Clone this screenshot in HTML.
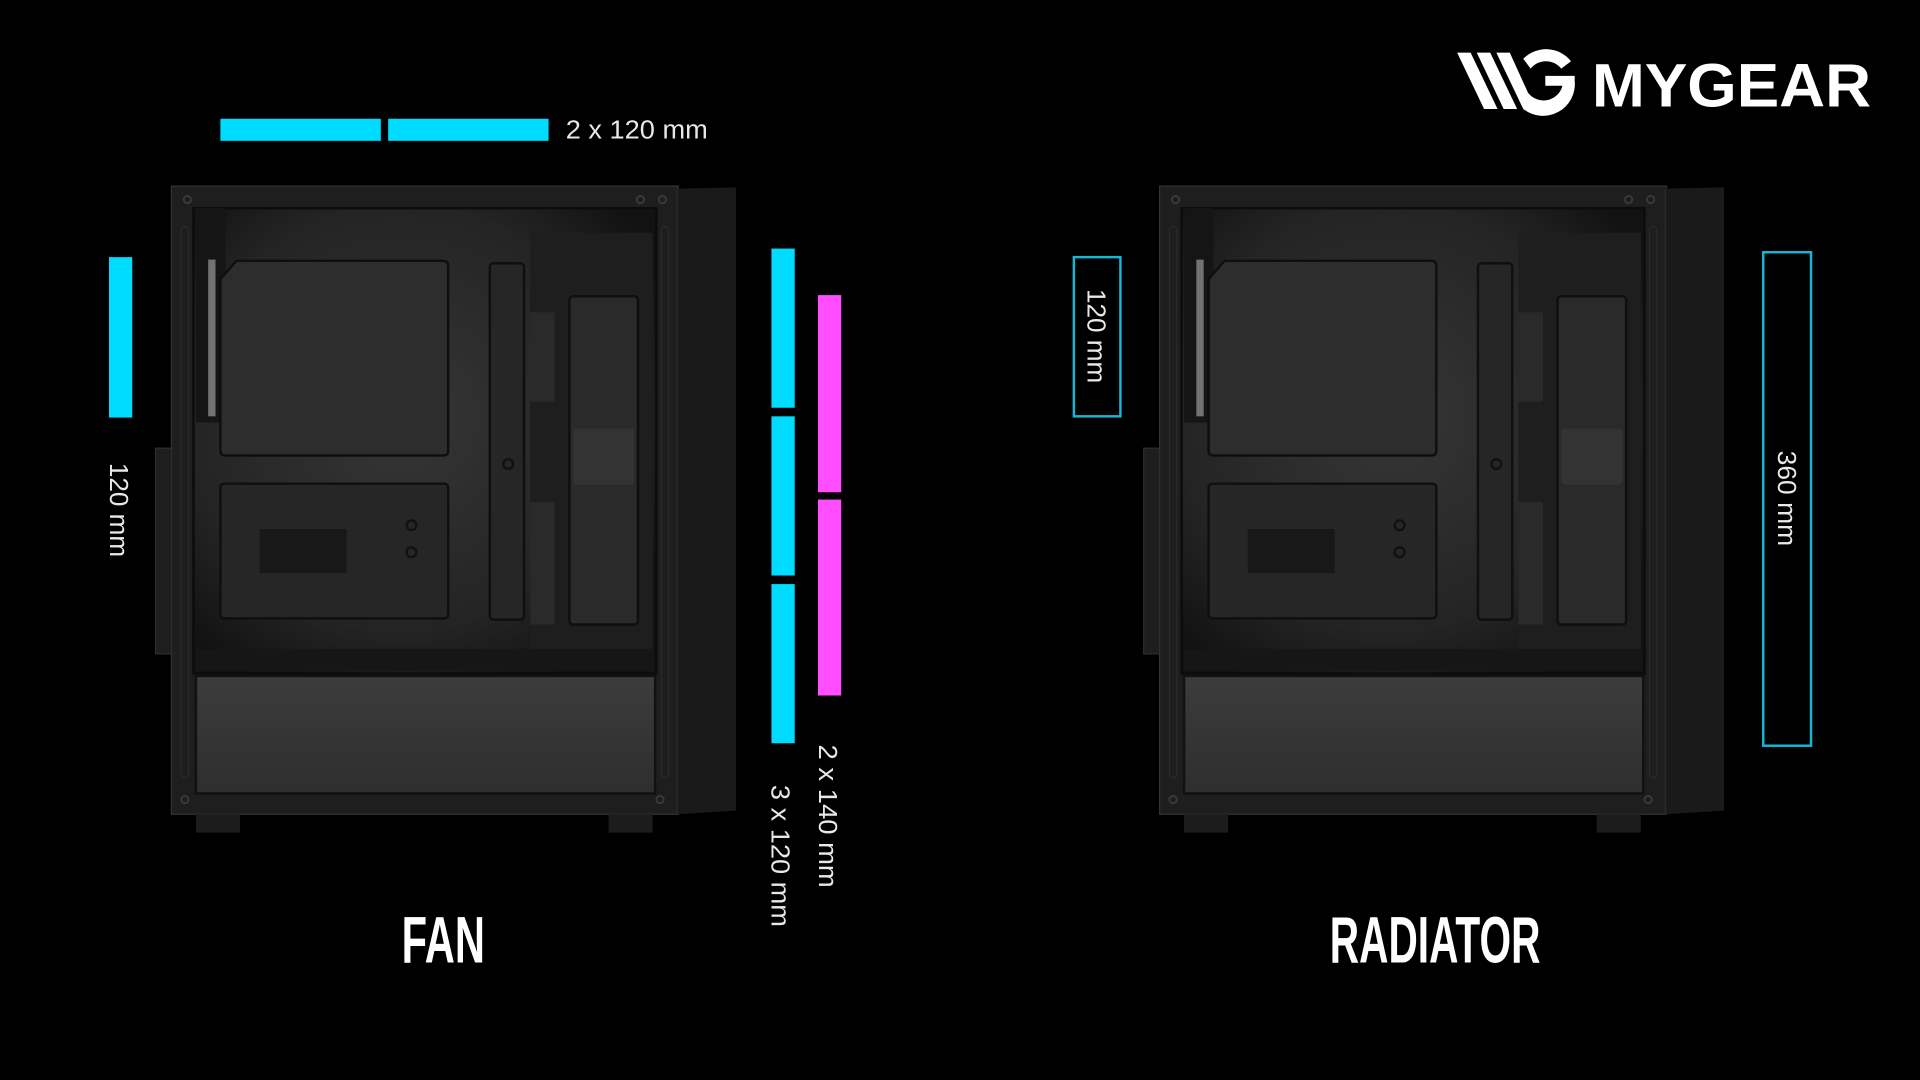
<!DOCTYPE html>
<html><head><meta charset="utf-8"><style>
html,body{margin:0;padding:0;background:#000;width:1920px;height:1080px;overflow:hidden}
svg{display:block}
</style></head><body>
<svg width="1920" height="1080" viewBox="0 0 1568 882" xmlns="http://www.w3.org/2000/svg">
<defs>
<radialGradient id="ig" cx="0.45" cy="0.45" r="0.65">
<stop offset="0" stop-color="#363636"/><stop offset="0.7" stop-color="#242424"/><stop offset="1" stop-color="#121212"/>
</radialGradient>
<linearGradient id="sh" x1="0" y1="0" x2="0" y2="1">
<stop offset="0" stop-color="#3c3c3c"/><stop offset="1" stop-color="#2e2e2e"/>
</linearGradient>
<g id="case">
<rect x="140" y="152" width="414" height="513" fill="#1e1e1e" stroke="#333" stroke-width="1"/>
<polygon points="553,154 601,153 601,662 553,665" fill="#1a1a1a"/>
<line x1="553" y1="154" x2="553" y2="665" stroke="#2c2c2c"/>
<rect x="160" y="665" width="36" height="15" fill="#1c1c1c"/>
<rect x="497" y="665" width="36" height="15" fill="#1c1c1c"/>
<rect x="127" y="366" width="13" height="168" fill="#1e1e1e" stroke="#2e2e2e"/>
<rect x="158" y="170" width="378" height="380" fill="url(#ig)" stroke="#0c0c0c" stroke-width="2"/>
<rect x="160" y="170" width="24" height="175" fill="#151515"/>
<rect x="433" y="190" width="100" height="358" fill="#1e1e1e"/>
<rect x="160" y="530" width="374" height="18" fill="#161616"/>
<path d="M193,213 L362,213 Q366,213 366,217 L366,368 Q366,372 362,372 L184,372 Q180,372 180,368 L180,228 Z" fill="#2d2d2d" stroke="#0f0f0f" stroke-width="2"/>
<rect x="180" y="395" width="186" height="110" rx="3" fill="#262626" stroke="#0f0f0f" stroke-width="2"/>
<rect x="212" y="432" width="71" height="36" fill="#181818"/>
<circle cx="336" cy="429" r="4" fill="none" stroke="#111" stroke-width="2"/>
<circle cx="336" cy="451" r="4" fill="none" stroke="#111" stroke-width="2"/>
<rect x="400" y="215" width="28" height="291" rx="3" fill="#262626" stroke="#0f0f0f" stroke-width="2"/>
<circle cx="415" cy="379" r="4" fill="none" stroke="#111" stroke-width="2"/>
<rect x="465" y="242" width="56" height="268" rx="3" fill="#2a2a2a" stroke="#0f0f0f" stroke-width="2"/>
<rect x="468" y="350" width="50" height="46" rx="3" fill="#333"/>
<rect x="433" y="255" width="20" height="73" fill="#2a2a2a"/>
<rect x="433" y="410" width="20" height="100" fill="#2a2a2a"/>
<rect x="170" y="212" width="6" height="128" fill="#cfcfcf" opacity="0.5"/>
<rect x="160" y="552" width="375" height="96" fill="url(#sh)" stroke="#111" stroke-width="2"/>
<g fill="none" stroke="#3a3a3a" stroke-width="1.5">
<circle cx="153" cy="163" r="3"/><circle cx="523" cy="163" r="3"/><circle cx="541" cy="163" r="3"/>
<circle cx="151" cy="653" r="3"/><circle cx="539" cy="653" r="3"/>
</g>
<rect x="148" y="185" width="6" height="450" rx="3" fill="none" stroke="#2a2a2a"/>
<rect x="540" y="185" width="6" height="450" rx="3" fill="none" stroke="#2a2a2a"/>
</g>
</defs>

<use href="#case"/>
<use href="#case" transform="translate(807,0)"/>

<rect x="180" y="97" width="131" height="18" fill="#00dcff"/>
<rect x="317" y="97" width="131" height="18" fill="#00dcff"/>
<text x="462" y="113" fill="#e8e8e8" font-family="Liberation Sans, sans-serif" font-size="21" textLength="116" lengthAdjust="spacingAndGlyphs">2 x 120 mm</text>
<rect x="89" y="210" width="19" height="131" fill="#00dcff"/>
<text transform="translate(90,378) rotate(90)" fill="#e8e8e8" font-family="Liberation Sans, sans-serif" font-size="21" textLength="77" lengthAdjust="spacingAndGlyphs">120 mm</text>
<rect x="630" y="203" width="19" height="130" fill="#00dcff"/>
<rect x="630" y="340" width="19" height="130" fill="#00dcff"/>
<rect x="630" y="477" width="19" height="130" fill="#00dcff"/>
<rect x="668" y="241" width="19" height="161" fill="#ff4dff"/>
<rect x="668" y="408" width="19" height="160" fill="#ff4dff"/>
<text transform="translate(630,641) rotate(90)" fill="#e8e8e8" font-family="Liberation Sans, sans-serif" font-size="21" textLength="116" lengthAdjust="spacingAndGlyphs">3 x 120 mm</text>
<text transform="translate(669,608) rotate(90)" fill="#e8e8e8" font-family="Liberation Sans, sans-serif" font-size="21" textLength="117" lengthAdjust="spacingAndGlyphs">2 x 140 mm</text>
<text x="362" y="786" text-anchor="middle" fill="#fff" font-family="Liberation Sans, sans-serif" font-weight="bold" font-size="54" textLength="68" lengthAdjust="spacingAndGlyphs">FAN</text>

<rect x="877" y="210" width="38" height="130" fill="none" stroke="#16b7d6" stroke-width="2"/>
<text transform="translate(888,236) rotate(90)" fill="#e8e8e8" font-family="Liberation Sans, sans-serif" font-size="21" textLength="77" lengthAdjust="spacingAndGlyphs">120 mm</text>
<rect x="1440" y="206" width="39" height="403" fill="none" stroke="#16b7d6" stroke-width="2"/>
<text transform="translate(1452,368) rotate(90)" fill="#e8e8e8" font-family="Liberation Sans, sans-serif" font-size="21" textLength="78" lengthAdjust="spacingAndGlyphs">360 mm</text>
<text x="1172" y="786" text-anchor="middle" fill="#fff" font-family="Liberation Sans, sans-serif" font-weight="bold" font-size="54" textLength="172" lengthAdjust="spacingAndGlyphs">RADIATOR</text>

<g fill="#fff">
<polygon points="1190,43 1201,43 1223,89 1212,89"/>
<polygon points="1206,43 1217,43 1239,89 1228,89"/>
<path d="M1222,43 L1233,43 L1248,76 A16,16 0 0 0 1276,70 L1262,70 L1262,62 L1286,62 L1286,66 A26,26 0 0 1 1244,89 Z"/>
<path d="M1244,48 A26,26 0 0 1 1283,50 L1275,56 A16,16 0 0 0 1250,56 Z"/>
</g>
<text x="1300" y="87" fill="#fff" font-family="Liberation Sans, sans-serif" font-weight="bold" font-size="50" textLength="228" lengthAdjust="spacingAndGlyphs">MYGEAR</text>
</svg>
</body></html>
